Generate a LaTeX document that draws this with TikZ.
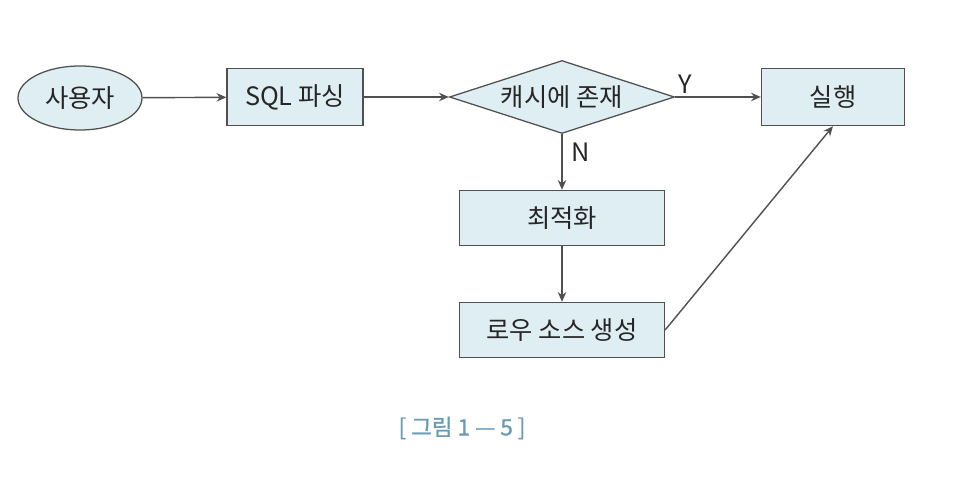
\documentclass[tikz,border=0pt]{standalone}
\usepackage{fontspec}
\setmainfont{Noto Sans CJK KR}[AutoFakeBold=1.2]
\usetikzlibrary{shapes.geometric, arrows.meta}
\definecolor{boxfill}{HTML}{DFEEF2}
\definecolor{boxline}{HTML}{505050}
\definecolor{capblue}{HTML}{6A9BB3}

\begin{document}
\begin{tikzpicture}[x=0.025cm, y=0.025cm,
  every node/.style={font=\fontsize{18}{21}\selectfont, text=black!85},
  procbox/.style={draw=boxline, fill=boxfill, line width=0.9pt, inner sep=0pt},
  flow/.style={draw=boxline, line width=1pt, -{Stealth[length=7pt, width=6pt]}}]
\useasboundingbox (0,0) rectangle (974,490);
\node[procbox, ellipse, minimum width=124*0.025cm, minimum height=64*0.025cm] (user) at (80,392) {사용자};
\node[procbox, rectangle, minimum width=136*0.025cm, minimum height=57*0.025cm] (parse) at (295,393) {SQL 파싱};
\node[procbox, diamond, aspect=3, minimum width=225*0.025cm, minimum height=73*0.025cm] (cache) at (562,393) {캐시에 존재};
\node[procbox, rectangle, minimum width=143*0.025cm, minimum height=57*0.025cm] (run) at (833,393) {실행};
\node[procbox, rectangle, minimum width=205*0.025cm, minimum height=55*0.025cm] (opt) at (562,272) {최적화};
\node[procbox, rectangle, minimum width=205*0.025cm, minimum height=55*0.025cm] (rowsrc) at (562,160) {로우 소스 생성};
\draw[flow] (user) -- (parse);
\draw[flow] (parse) -- (cache);
\draw[flow] (cache.east) -- (run.west) node[pos=0, above right, inner sep=2pt] {Y};
\draw[flow] (cache.south) -- (opt.north) node[pos=0.33, right, inner sep=6pt] {N};
\draw[flow] (opt) -- (rowsrc);
\draw[flow] (rowsrc.east) -- (run.south);
\node[font=\fontsize{16}{19}\selectfont\bfseries, text=capblue] (caption) at (462,62) {[ 그림 1 — 5 ]};
\end{tikzpicture}
\end{document}
